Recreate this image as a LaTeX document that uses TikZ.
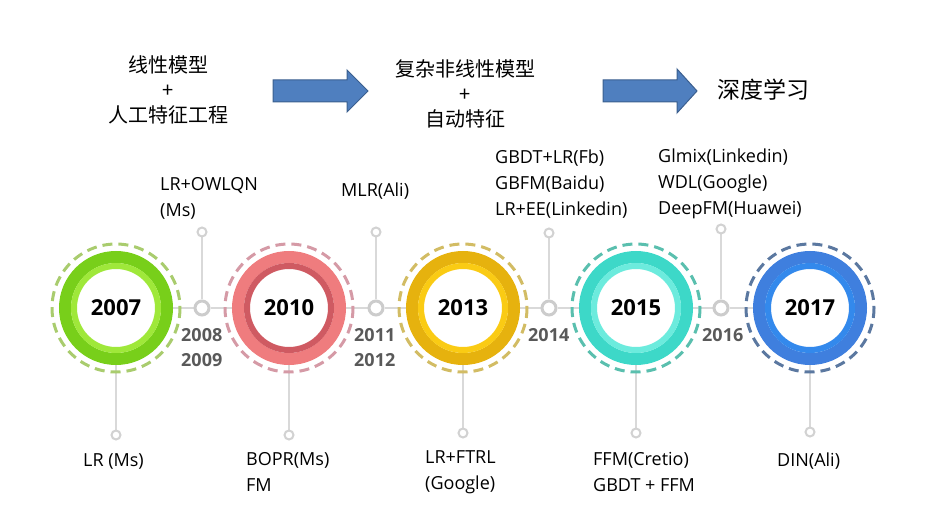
\documentclass[tikz,border=0pt]{standalone}
\usepackage{fontspec}
\setmainfont{Open Sans}
\newfontfamily\cjk{Noto Sans CJK SC}
\usetikzlibrary{positioning,backgrounds}

\definecolor{ringA}{HTML}{78CF1A}
\definecolor{ringAin}{HTML}{9FE83A}
\definecolor{dashA}{HTML}{A9CC6E}
\definecolor{ringB}{HTML}{EF7C7E}
\definecolor{ringBin}{HTML}{CF5A62}
\definecolor{dashB}{HTML}{D59AA6}
\definecolor{ringC}{HTML}{E6B20E}
\definecolor{ringCin}{HTML}{FACB14}
\definecolor{dashC}{HTML}{D2BC64}
\definecolor{ringD}{HTML}{3DD8C8}
\definecolor{ringDin}{HTML}{6CEBDD}
\definecolor{dashD}{HTML}{5ABFAE}
\definecolor{ringE}{HTML}{3F7FDE}
\definecolor{ringEin}{HTML}{3389EC}
\definecolor{dashE}{HTML}{5B78A0}
\definecolor{arrowblue}{HTML}{4F7FBF}
\definecolor{yeargray}{HTML}{595959}

\tikzset{
  year/.style={circle, fill=white, minimum size=78, inner sep=0, font=\fontsize{22}{26}\selectfont\bfseries},
  dot/.style={circle, draw=gray!40, line width=3, fill=white, minimum size=14, inner sep=0},
  tip/.style={circle, draw=gray!35, line width=2, fill=white, minimum size=9, inner sep=0},
  link/.style={gray!30, line width=1.5},
  model/.style={anchor=west, align=left, inner sep=0, font=\fontsize{18}{26}\selectfont},
  gap/.style={anchor=west, align=left, inner sep=0, text=yeargray, font=\fontsize{18}{25}\selectfont\bfseries},
  stage/.style={align=center, inner sep=0, font=\cjk\fontsize{20}{25}\selectfont},
  blockarrow/.style={fill=arrowblue, draw=arrowblue!75!black, line width=1}
}

\begin{document}
\begin{tikzpicture}[x=1pt, y=-1pt]

    \useasboundingbox (0,0) rectangle (951,529);

    \node[stage] (s1) at (168,90) {线性模型\\+\\人工特征工程};
    \node[stage] (s2) at (465,94) {复杂非线性模型\\+\\自动特征};
    \node[stage, font=\cjk\fontsize{23}{25}\selectfont] (s3) at (763,90) {深度学习};

    \draw[blockarrow] (273,80) -- (347,80) -- (347,70) -- (368,91) -- (347,112) -- (347,102) -- (273,102) -- cycle;
    \draw[blockarrow] (603,80) -- (677,80) -- (677,69) -- (697,91) -- (677,113) -- (677,102) -- (603,102) -- cycle;

    \node[year] (y2007) at (116,308) {2007};
    \node[year] (y2010) at (289,308) {2010};
    \node[year] (y2013) at (463,308) {2013};
    \node[year] (y2015) at (636,308) {2015};
    \node[year] (y2017) at (810,308) {2017};

    \node[dot] (d2008) at (202,308) {};
    \node[dot] (d2011) at (376,308) {};
    \node[dot] (d2014) at (549,308) {};
    \node[dot] (d2016) at (721,308) {};

    \foreach \n/\y in {2008/232, 2011/232, 2014/233, 2016/229}
        \node[tip] (t\n) at (d\n |- 0,\y) {};
    \foreach \n/\y in {2007/435, 2010/435, 2013/433, 2015/433, 2017/432}
        \node[tip] (b\n) at (y\n |- 0,\y) {};

    \begin{scope}[on background layer]
        \draw[link] (y2007) -- (d2008) -- (y2010) -- (d2011) -- (y2013) -- (d2014) -- (y2015) -- (d2016) -- (y2017);
        \foreach \n in {2008,2011,2014,2016} \draw[link] (d\n) -- (t\n);
        \foreach \n in {2007,2010,2013,2015,2017} \draw[link] (y\n) -- (b\n);
    \end{scope}

    \foreach \n/\ca/\cb/\cd in {y2007/ringA/ringAin/dashA, y2010/ringB/ringBin/dashB, y2013/ringC/ringCin/dashC, y2015/ringD/ringDin/dashD, y2017/ringE/ringEin/dashE} {
        \draw[\cd, line width=3, dash pattern=on 10 off 6] (\n) circle (64);
        \draw[\ca, line width=12] (\n) circle (51);
        \draw[\cb, line width=6] (\n) circle (42);
    }

    \node[model] (m2008) at (160,198.5) {LR+OWLQN\\(Ms)};
    \node[model] (m2011) at (341,191) {MLR(Ali)};
    \node[model] (m2014) at (495,184) {GBDT+LR(Fb)\\GBFM(Baidu)\\LR+EE(Linkedin)};
    \node[model] (m2016) at (658,184) {Glmix(Linkedin)\\WDL(Google)\\DeepFM(Huawei)};

    \node[model] (m2007) at (83,461) {LR (Ms)};
    \node[model] (m2010) at (246,472) {BOPR(Ms)\\FM};
    \node[model] (m2013) at (425,472) {LR+FTRL\\(Google)};
    \node[model] (m2015) at (593,472) {FFM(Cretio)\\GBDT + FFM};
    \node[model] (m2017) at (777,461) {DIN(Ali)};

    \node[gap] (g2008) at (181,347.5) {2008\\2009};
    \node[gap] (g2011) at (354,347.5) {2011\\2012};
    \node[gap] (g2014) at (528,335) {2014};
    \node[gap] (g2016) at (702,335) {2016};

\end{tikzpicture}
\end{document}
